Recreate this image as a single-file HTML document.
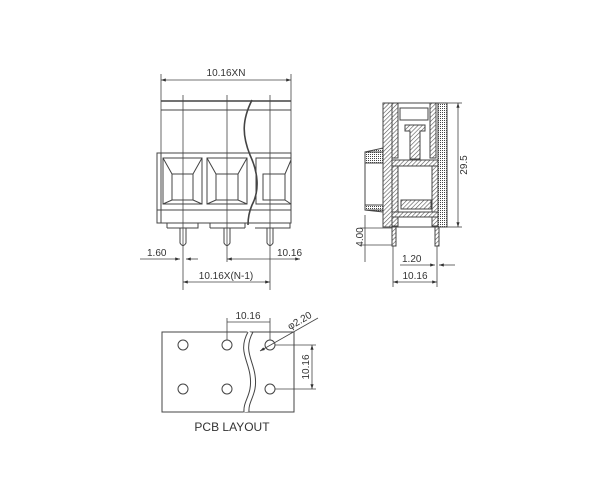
<!DOCTYPE html>
<html><head><meta charset="utf-8"><style>
html,body{margin:0;padding:0;background:#fff;}
svg{display:block}
text{font-family:"Liberation Sans",sans-serif;fill:#333;font-size:10px}
</style></head><body>
<svg width="600" height="480" viewBox="0 0 600 480" xmlns="http://www.w3.org/2000/svg">
<defs>
<pattern id="h" width="3" height="3" patternUnits="userSpaceOnUse" patternTransform="rotate(45)">
<rect width="3" height="3" fill="#fff"/><line x1="0" y1="0" x2="0" y2="3" stroke="#555" stroke-width="1.2"/></pattern>
<pattern id="d" width="2" height="2" patternUnits="userSpaceOnUse">
<rect width="2" height="2" fill="#fff"/><rect width="1" height="1" fill="#444"/></pattern>
<marker id="a" markerWidth="6" markerHeight="4" refX="6" refY="2" orient="auto"><path d="M0,0L6,2L0,4z" fill="#333"/></marker>
<marker id="b" markerWidth="6" markerHeight="4" refX="0" refY="2" orient="auto"><path d="M6,0L0,2L6,4z" fill="#333"/></marker>
</defs>
<g stroke="#444" stroke-width="1" fill="none">
<!-- FRONT VIEW -->
<line x1="161" y1="80" x2="291" y2="80" marker-start="url(#b)" marker-end="url(#a)" stroke-width="0.8"/>
<line x1="161" y1="74" x2="161" y2="153" stroke-width="0.8"/>
<line x1="291" y1="74" x2="291" y2="153" stroke-width="0.8"/>
<line x1="161" y1="101" x2="291" y2="101" stroke-width="1.5"/>
<line x1="161" y1="110" x2="291" y2="110"/>
<rect x="157" y="153" width="134" height="70"/>
<line x1="161" y1="153" x2="161" y2="223"/>
<line x1="157" y1="210" x2="291" y2="210"/>
<rect x="163" y="158" width="39" height="46"/><rect x="172" y="174" width="21" height="26"/>
<path d="M163,158L172,174M202,158L193,174M163,204L172,200M202,204L193,200"/>
<rect x="207" y="158" width="40" height="46"/><rect x="216" y="174" width="22" height="26"/>
<path d="M207,158L216,174M247,158L238,174M207,204L216,200M247,204L238,200"/>
<rect x="256" y="158" width="35" height="46"/><rect x="263" y="174" width="22" height="26"/>
<path d="M285,174L291,160M285,200L291,204"/>
<path d="M252,100C242,120 242,135 250,155C258,172 260,190 252,205C249,212 248,218 248,225" stroke-width="1.6"/>
<path d="M167,228V223M198,223V228H167M210,228V223M245,228V223M245,228H210M255,228H290V223"/>
<line x1="183" y1="95" x2="183" y2="290" stroke-width="0.8"/>
<line x1="227" y1="95" x2="227" y2="262" stroke-width="0.8"/>
<line x1="270" y1="95" x2="270" y2="290" stroke-width="0.8"/>
<path d="M180,228V243Q183,248 186,243V228"/>
<path d="M224,228V243Q227,248 230,243V228"/>
<path d="M267,228V243Q270,248 273,243V228"/>
<line x1="140" y1="259" x2="180" y2="259" marker-end="url(#a)" stroke-width="0.8"/>
<line x1="186" y1="259" x2="198" y2="259" marker-start="url(#b)" stroke-width="0.8"/>
<line x1="227" y1="259" x2="300" y2="259" marker-start="url(#b)" marker-end="url(#a)" stroke-width="0.8"/>
<line x1="183" y1="282" x2="270" y2="282" marker-start="url(#b)" marker-end="url(#a)" stroke-width="0.8"/>
<!-- SIDE VIEW -->
<rect x="383" y="103" width="64" height="124"/>
<rect x="383" y="103" width="9" height="124" fill="url(#h)"/>
<rect x="438" y="103" width="9" height="124" fill="url(#d)"/>
<rect x="392" y="103" width="6" height="55" fill="url(#h)"/>
<rect x="430" y="103" width="6" height="55" fill="url(#h)"/>
<rect x="400" y="108" width="28" height="12" fill="#fff"/>
<path d="M405,125h20v6h-5v28h-10v-28h-5z" fill="url(#h)"/>
<rect x="392" y="160" width="46" height="6" fill="url(#h)"/>
<rect x="392" y="166" width="6" height="60" fill="url(#h)"/>
<rect x="432" y="166" width="6" height="60" fill="url(#h)"/>
<rect x="401" y="200" width="30" height="9" fill="url(#h)"/>
<rect x="392" y="212" width="46" height="5" fill="url(#h)"/>
<path d="M365,152L383,148V163H365z" fill="url(#d)"/>
<path d="M365,205H383V212L365,210z" fill="url(#d)"/>
<rect x="365" y="152" width="18" height="58"/>
<rect x="392" y="227" width="4" height="19" fill="url(#h)"/>
<rect x="435" y="227" width="4" height="19" fill="url(#h)"/>
<line x1="447" y1="103" x2="462" y2="103" stroke-width="0.8"/>
<line x1="447" y1="227" x2="462" y2="227" stroke-width="0.8"/>
<line x1="458" y1="103" x2="458" y2="227" marker-start="url(#b)" marker-end="url(#a)" stroke-width="0.8"/>
<line x1="360" y1="228" x2="392" y2="228" stroke-width="0.8"/>
<line x1="360" y1="245" x2="392" y2="245" stroke-width="0.8"/>
<line x1="365" y1="215" x2="365" y2="262" stroke-width="0.8"/>
<line x1="393" y1="246" x2="393" y2="287" stroke-width="0.8"/>
<line x1="437" y1="246" x2="437" y2="287" stroke-width="0.8"/>
<line x1="400" y1="265" x2="435" y2="265" marker-end="url(#a)" stroke-width="0.8"/>
<line x1="439" y1="265" x2="455" y2="265" marker-start="url(#b)" stroke-width="0.8"/>
<line x1="393" y1="282" x2="437" y2="282" marker-start="url(#b)" marker-end="url(#a)" stroke-width="0.8"/>
<!-- PCB -->
<rect x="162" y="332" width="132" height="80"/>
<path d="M250,332C240,350 250,360 252,375C255,395 245,400 246,412" fill="#fff" stroke="#fff" stroke-width="5"/>
<path d="M248,332C238,350 248,360 250,375C253,395 243,400 244,412M253,332C243,350 253,360 255,375C258,395 248,400 249,412"/>
<circle cx="183" cy="345" r="5"/><circle cx="227" cy="345" r="5"/><circle cx="270" cy="345" r="5"/>
<circle cx="183" cy="389" r="5"/><circle cx="227" cy="389" r="5"/><circle cx="270" cy="389" r="5"/>
<line x1="227" y1="318" x2="227" y2="340" stroke-width="0.8"/>
<line x1="270" y1="318" x2="270" y2="340" stroke-width="0.8"/>
<line x1="227" y1="322" x2="270" y2="322" stroke-width="0.8"/>
<line x1="260" y1="351" x2="318" y2="318" stroke-width="0.8" marker-start="url(#b)"/>
<line x1="275" y1="345" x2="316" y2="345" stroke-width="0.8"/>
<line x1="275" y1="389" x2="316" y2="389" stroke-width="0.8"/>
<line x1="312" y1="345" x2="312" y2="389" marker-start="url(#b)" marker-end="url(#a)" stroke-width="0.8"/>
</g>
<text x="226" y="76" text-anchor="middle">10.16XN</text>
<text x="147" y="256">1.60</text>
<text x="277" y="256">10.16</text>
<text x="226" y="279" text-anchor="middle">10.16X(N-1)</text>
<text transform="translate(467,165) rotate(-90)" text-anchor="middle">29.5</text>
<text transform="translate(363,237) rotate(-90)" text-anchor="middle">4.00</text>
<text x="402" y="262">1.20</text>
<text x="415" y="279" text-anchor="middle">10.16</text>
<text x="248" y="319" text-anchor="middle">10.16</text>
<text transform="translate(290,330) rotate(-30)">φ2.20</text>
<text transform="translate(309,367) rotate(-90)" text-anchor="middle">10.16</text>
<text x="232" y="431" text-anchor="middle" style="font-size:12px">PCB LAYOUT</text>
</svg>
</body></html>
